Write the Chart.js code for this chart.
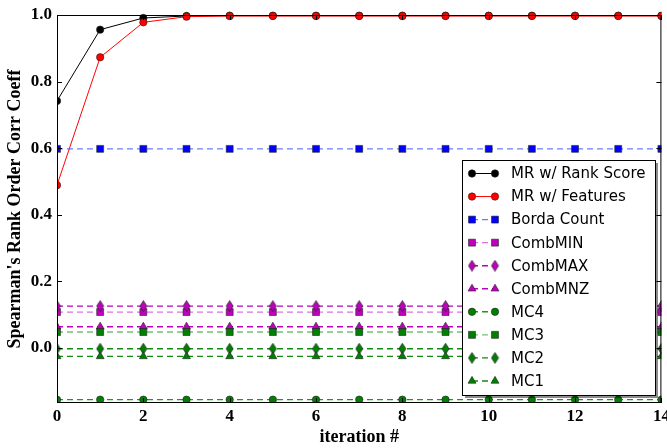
<!DOCTYPE html>
<html>
<head>
<meta charset="utf-8">
<script src="https://cdn.jsdelivr.net/npm/chart.js@4.4.1/dist/chart.umd.min.js"></script>
<style>
  html, body { margin: 0; padding: 0; background: #fff; }
  #wrap { width: 667px; height: 448px; }
</style>
</head>
<body>
<div id="wrap"><canvas id="rankChart"></canvas></div>
<script>
const iterations = [0, 1, 2, 3, 4, 5, 6, 7, 8, 9, 10, 11, 12, 13, 14];
const xTicks = [0, 2, 4, 6, 8, 10, 12, 14];
const yTicks = [0.0, 0.2, 0.4, 0.6, 0.8, 1.0];

const mrRankScore = [0.742, 0.956, 0.991, 0.997, 0.998, 0.998, 0.998, 0.998, 0.998, 0.998, 0.998, 0.998, 0.998, 0.998, 0.998];
const mrFeatures  = [0.489, 0.873, 0.978, 0.995, 0.997, 0.997, 0.997, 0.997, 0.997, 0.997, 0.997, 0.997, 0.997, 0.997, 0.997];
const bordaCount  = [0.598, 0.598, 0.598, 0.598, 0.598, 0.598, 0.598, 0.598, 0.598, 0.598, 0.598, 0.598, 0.598, 0.598, 0.598];
const combMIN     = [0.108, 0.108, 0.108, 0.108, 0.108, 0.108, 0.108, 0.108, 0.108, 0.108, 0.108, 0.108, 0.108, 0.108, 0.108];
const combMAX     = [0.126, 0.126, 0.126, 0.126, 0.126, 0.126, 0.126, 0.126, 0.126, 0.126, 0.126, 0.126, 0.126, 0.126, 0.126];
const combMNZ     = [0.064, 0.064, 0.064, 0.064, 0.064, 0.064, 0.064, 0.064, 0.064, 0.064, 0.064, 0.064, 0.064, 0.064, 0.064];
const mc4         = [-0.155, -0.155, -0.155, -0.155, -0.155, -0.155, -0.155, -0.155, -0.155, -0.155, -0.155, -0.155, -0.155, -0.155, -0.155];
const mc3         = [0.048, 0.048, 0.048, 0.048, 0.048, 0.048, 0.048, 0.048, 0.048, 0.048, 0.048, 0.048, 0.048, 0.048, 0.048];
const mc2         = [-0.002, -0.002, -0.002, -0.002, -0.002, -0.002, -0.002, -0.002, -0.002, -0.002, -0.002, -0.002, -0.002, -0.002, -0.002];
const mc1         = [-0.025, -0.025, -0.025, -0.025, -0.025, -0.025, -0.025, -0.025, -0.025, -0.025, -0.025, -0.025, -0.025, -0.025, -0.025];

const MAGENTA = '#bf00bf';
const GREEN = '#008000';
const tickFont = { family: '"Liberation Serif", serif', size: 17, weight: 'bold' };
const titleFont = { family: '"Liberation Serif", serif', size: 18, weight: 'bold' };

// narrow diamond marker (taller than wide), as a small image
function thinDiamond(fill) {
  const c = document.createElement('canvas');
  c.width = 9; c.height = 12;
  const g = c.getContext('2d');
  g.beginPath();
  g.moveTo(4.5, 0.5); g.lineTo(8, 6); g.lineTo(4.5, 11.5); g.lineTo(1, 6); g.closePath();
  g.fillStyle = fill; g.fill();
  g.strokeStyle = '#222'; g.lineWidth = 0.7; g.stroke();
  return c;
}

// label, values, colour, marker, marker size, dashed line?, line colour
const seriesDefs = [
  ['MR w/ Rank Score', mrRankScore, '#000000', 'circle', 3.7, false, '#000000'],
  ['MR w/ Features', mrFeatures, '#ff0000', 'circle', 3.7, false, '#ff0000'],
  ['Borda Count', bordaCount, '#0000ff', 'rect', 4.9, true, 'rgba(60,80,255,0.75)'],
  ['CombMIN', combMIN, MAGENTA, 'rect', 4.9, true, 'rgba(200,60,200,0.7)'],
  ['CombMAX', combMAX, MAGENTA, thinDiamond(MAGENTA), 5, true, MAGENTA],
  ['CombMNZ', combMNZ, MAGENTA, 'triangle', 4.6, true, MAGENTA],
  ['MC4', mc4, GREEN, 'circle', 3.7, true, '#10a010'],
  ['MC3', mc3, GREEN, 'rect', 4.9, true, 'rgba(40,160,40,0.65)'],
  ['MC2', mc2, GREEN, thinDiamond(GREEN), 5, true, '#108c10'],
  ['MC1', mc1, GREEN, 'triangle', 4.6, true, '#108c10']
];

const datasets = seriesDefs.map(([label, values, color, style, size, dashed, lineColor], i) => ({
  label: label,
  data: iterations.map((x, j) => ({ x: x, y: values[j] })),
  borderColor: lineColor,
  borderWidth: dashed ? 1.4 : 1,
  borderDash: dashed ? [6, 4] : [],
  backgroundColor: color,
  pointStyle: style,
  pointRadius: size,
  pointBackgroundColor: color,
  pointBorderColor: '#222',
  pointBorderWidth: 0.6,
  pointHoverRadius: size,
  tension: 0,
  order: -i,
  clip: { left: 0, top: 6, right: 0, bottom: 0 },
  markerColor: color
}));

// box around the axes with inward tick marks on every side
const frame = {
  id: 'frame',
  afterDatasetsDraw(chart) {
    const { ctx, chartArea: a, scales } = chart;
    ctx.save();
    ctx.strokeStyle = '#000';
    ctx.lineWidth = 1;
    ctx.strokeRect(a.left + 0.5, a.top + 0.5, a.right - a.left - 1, a.bottom - a.top - 1);
    ctx.beginPath();
    xTicks.forEach(v => {
      const px = Math.round(scales.x.getPixelForValue(v)) + 0.5;
      ctx.moveTo(px, a.bottom); ctx.lineTo(px, a.bottom - 5);
      ctx.moveTo(px, a.top); ctx.lineTo(px, a.top + 5);
    });
    yTicks.forEach(v => {
      const py = Math.round(scales.y.getPixelForValue(v)) + 0.5;
      ctx.moveTo(a.left, py); ctx.lineTo(a.left + 5, py);
      ctx.moveTo(a.right, py); ctx.lineTo(a.right - 5, py);
    });
    ctx.stroke();
    ctx.restore();
  }
};

// legend box drawn inside the plot, lower right
const insideLegend = {
  id: 'insideLegend',
  afterDraw(chart) {
    const { ctx } = chart;
    const box = { x: 462, y: 160, w: 193, h: 235 };
    ctx.save();
    ctx.fillStyle = 'rgba(0,0,0,0.45)';
    ctx.fillRect(box.x + 3, box.y + 3, box.w, box.h);
    ctx.fillStyle = '#fff';
    ctx.fillRect(box.x, box.y, box.w, box.h);
    ctx.strokeStyle = '#000';
    ctx.lineWidth = 1;
    ctx.strokeRect(box.x + 0.5, box.y + 0.5, box.w, box.h);

    ctx.font = '15px "DejaVu Sans", sans-serif';
    ctx.textBaseline = 'middle';
    chart.data.datasets.forEach((ds, i) => {
      const y = 173.5 + i * 23.05;
      const x0 = 472, x1 = 495;
      ctx.strokeStyle = ds.borderColor;
      ctx.lineWidth = ds.borderWidth;
      ctx.setLineDash(ds.borderDash.length ? [6, 4] : []);
      ctx.beginPath();
      ctx.moveTo(x0, y); ctx.lineTo(x1, y);
      ctx.stroke();
      ctx.setLineDash([]);
      [x0, x1].forEach(px => {
        ctx.fillStyle = ds.markerColor;
        ctx.strokeStyle = '#222';
        ctx.lineWidth = 0.6;
        Chart.helpers.drawPoint(ctx, { pointStyle: ds.pointStyle, radius: ds.pointRadius, rotation: 0, borderWidth: 0.6 }, px, y);
      });
      ctx.fillStyle = '#000';
      ctx.fillText(ds.label, 511, y + 1);
    });
    ctx.restore();
  }
};

new Chart(document.getElementById('rankChart').getContext('2d'), {
  type: 'line',
  data: { datasets: datasets },
  options: {
    responsive: true,
    maintainAspectRatio: false,
    animation: false,
    layout: { padding: { top: 15, right: 5, left: 0, bottom: 0 } },
    plugins: { legend: { display: false }, tooltip: { enabled: false } },
    scales: {
      x: {
        type: 'linear',
        min: 0,
        max: 14,
        grid: { display: false, drawTicks: false },
        border: { display: false },
        afterBuildTicks: scale => { scale.ticks = xTicks.map(v => ({ value: v })); },
        afterFit: scale => { scale.height = 45; scale.paddingLeft = 0; scale.paddingRight = 0; },
        ticks: { color: '#000', font: tickFont, padding: 3, maxRotation: 0, callback: v => String(v) },
        title: { display: true, text: 'iteration #', color: '#000', font: titleFont, padding: { top: 0, bottom: 0 } }
      },
      y: {
        min: -0.165,
        max: 1.0,
        grid: { display: false, drawTicks: false },
        border: { display: false },
        afterBuildTicks: scale => { scale.ticks = yTicks.map(v => ({ value: v })); },
        afterFit: scale => { scale.width = 57; scale.paddingTop = 0; scale.paddingBottom = 0; },
        ticks: { color: '#000', font: tickFont, padding: 5, callback: v => v.toFixed(1) },
        title: { display: true, text: "Spearman's Rank Order Corr Coeff", color: '#000', font: titleFont, padding: { top: 5, bottom: 0 } }
      }
    }
  },
  plugins: [frame, insideLegend]
});
</script>
</body>
</html>
